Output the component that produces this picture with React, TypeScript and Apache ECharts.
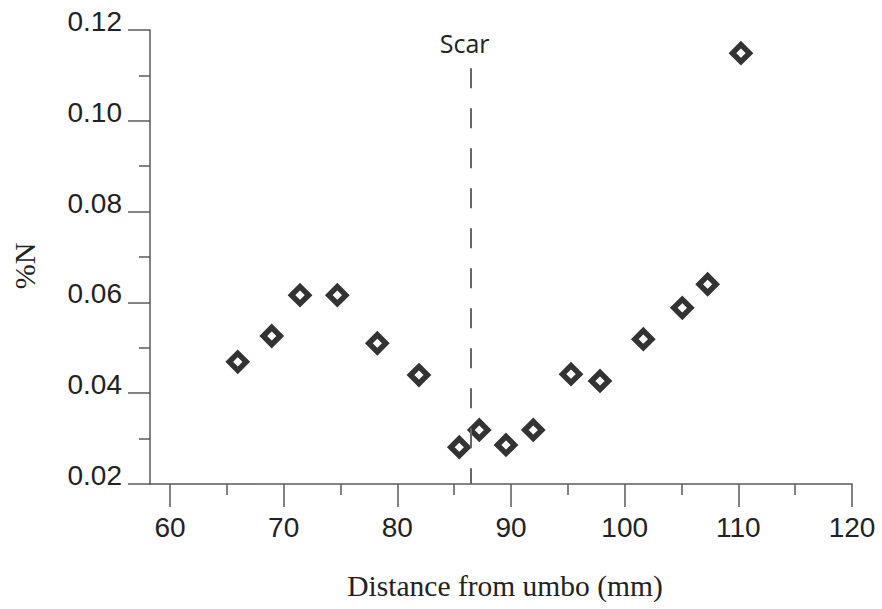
import React, { useEffect, useRef } from "react";
import * as echarts from "echarts";

// Distance from umbo (mm) and nitrogen content (%N) for each sample
const distanceMm = [65.96, 68.95, 71.44, 74.72, 78.24, 81.9, 85.45, 87.21, 89.56, 91.96, 95.28, 97.83, 101.64, 105.07, 107.3, 110.23];
const nitrogenPct = [0.0469, 0.0526, 0.0616, 0.0616, 0.051, 0.044, 0.0281, 0.0319, 0.0286, 0.0319, 0.0442, 0.0427, 0.0519, 0.0588, 0.064, 0.1149];

// Position of the growth scar and the extent of its marker line
const scarDistance = [86.45];
const scarRange = [0.1116, 0.02];

// Axis ticks
const xMajorTicks = [60, 70, 80, 90, 100, 110, 120];
const xMinorTicks = [65, 75, 85, 95, 105, 115];
const xRange = [58.24, 120];
const yRange = [0.02, 0.12];
const yStep = 0.02;

const AXIS_COLOR = "#5a5a5a";
const TEXT_COLOR = "#222";

export default function App() {
  const ref = useRef<HTMLDivElement>(null);

  useEffect(() => {
    document.body.style.margin = "0";
    if (!ref.current) return;
    const chart = echarts.init(ref.current, null, { renderer: "svg" });
    const points = distanceMm.map((d, i) => [d, nitrogenPct[i]]);

    chart.setOption({
      animation: false,
      backgroundColor: "#fff",
      grid: { left: 150, right: 30, top: 30, bottom: 125 },
      xAxis: [
        {
          type: "value",
          min: xRange[0],
          max: xRange[1],
          axisLine: { show: true, onZero: false, lineStyle: { color: AXIS_COLOR, width: 1.5 } },
          axisTick: { show: true, customValues: xMajorTicks, length: 23, lineStyle: { color: AXIS_COLOR, width: 1.5 } },
          axisLabel: {
            customValues: xMajorTicks,
            margin: 29,
            fontSize: 28,
            color: TEXT_COLOR,
            fontFamily: "Liberation Sans, Arial, sans-serif",
          },
          splitLine: { show: false },
        },
        {
          type: "value",
          position: "bottom",
          min: xRange[0],
          max: xRange[1],
          axisLine: { show: false },
          axisTick: { show: true, customValues: xMinorTicks, length: 11, lineStyle: { color: AXIS_COLOR, width: 1.5 } },
          axisLabel: { show: false },
          splitLine: { show: false },
        },
      ],
      yAxis: {
        type: "value",
        min: yRange[0],
        max: yRange[1],
        interval: yStep,
        axisLine: { show: true, onZero: false, lineStyle: { color: AXIS_COLOR, width: 1.5 } },
        axisTick: { show: true, length: 22, lineStyle: { color: AXIS_COLOR, width: 1.5 } },
        minorTick: { show: true, splitNumber: 2, length: 11, lineStyle: { color: AXIS_COLOR, width: 1.5 } },
        axisLabel: {
          margin: 28,
          fontSize: 28,
          lineHeight: 17,
          color: TEXT_COLOR,
          fontFamily: "Liberation Sans, Arial, sans-serif",
          verticalAlign: "bottom",
          formatter: (v: number) => v.toFixed(2),
        },
        splitLine: { show: false },
        minorSplitLine: { show: false },
      },
      graphic: [
        {
          type: "text",
          x: 24,
          y: 266,
          rotation: Math.PI / 2,
          style: {
            text: "%N",
            fontSize: 30,
            fontFamily: "Liberation Serif, Times New Roman, serif",
            fill: TEXT_COLOR,
            textAlign: "center",
            textVerticalAlign: "middle",
          },
        },
        {
          type: "text",
          x: 505,
          y: 586,
          style: {
            text: "Distance from umbo (mm)",
            fontSize: 29.5,
            fontFamily: "Liberation Serif, Times New Roman, serif",
            fill: TEXT_COLOR,
            textAlign: "center",
            textVerticalAlign: "middle",
          },
        },
      ],
      series: [
        {
          type: "scatter",
          data: points,
          symbol: "diamond",
          symbolSize: 17,
          itemStyle: { color: "#fff", borderColor: "#000", borderWidth: 5.5 },
          markLine: {
            silent: true,
            symbol: ["none", "none"],
            lineStyle: { color: "#666", width: 2, type: [20, 20] },
            label: {
              show: true,
              position: "start",
              formatter: "Scar",
              distance: 13,
              offset: [-6, 0],
              fontSize: 25,
              color: TEXT_COLOR,
              fontFamily: "Open Sans, Noto Sans, sans-serif",
            },
            data: [
              [
                { coord: [scarDistance[0], scarRange[0]] },
                { coord: [scarDistance[0], scarRange[1]] },
              ],
            ],
          },
        },
      ],
    });

    return () => chart.dispose();
  }, []);

  return <div ref={ref} style={{ width: 882, height: 609 }} />;
}
